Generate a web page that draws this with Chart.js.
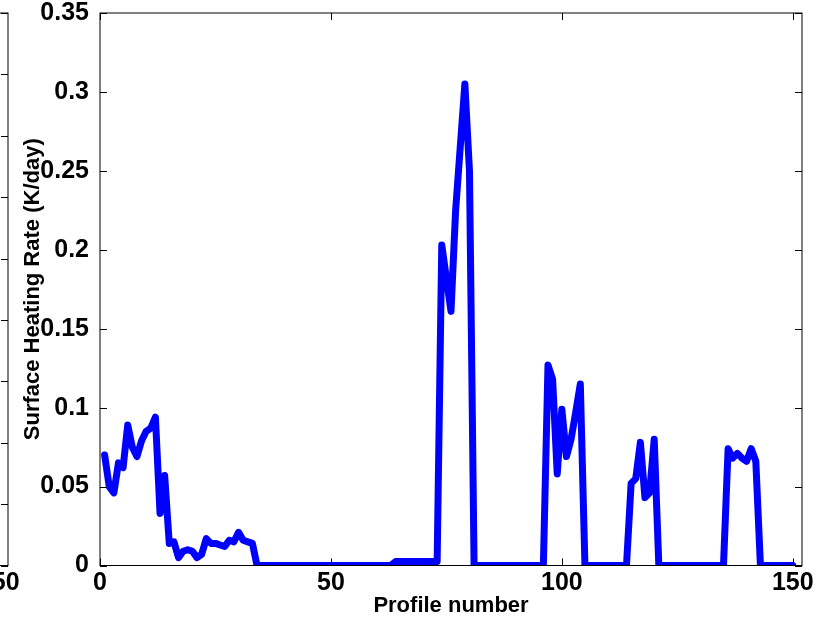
<!DOCTYPE html>
<html>
<head>
<meta charset="utf-8">
<title>Surface heating rate by profile</title>
<script src="https://cdn.jsdelivr.net/npm/chart.js@4.4.1/dist/chart.umd.min.js"></script>
<style>
  html, body { margin: 0; padding: 0; background: #fff; }
  #wrap { position: relative; width: 830px; height: 620px; overflow: hidden; }
  #neighbour, #main { position: absolute; top: 0; }
  #neighbour { left: -794px; }
  #main { left: 0; }
</style>
</head>
<body>
<div id="wrap">
  <canvas id="neighbour" width="830" height="620"></canvas>
  <canvas id="main" width="830" height="620"></canvas>
</div>
<script>
// Surface heating rate (K/day) for each profile, profiles 1..150
const heatingRate = [
  0.070, 0.050, 0.046, 0.065, 0.062, 0.089, 0.075, 0.069, 0.079, 0.085,
  0.087, 0.094, 0.033, 0.057, 0.014, 0.015, 0.005, 0.009, 0.010, 0.009,
  0.005, 0.007, 0.017, 0.014, 0.014, 0.013, 0.012, 0.016, 0.015, 0.021,
  0.016, 0.015, 0.014, 0, 0, 0, 0, 0, 0, 0,
  0, 0, 0, 0, 0, 0, 0, 0, 0, 0,
  0, 0, 0, 0, 0, 0, 0, 0, 0, 0,
  0, 0, 0, 0.0025, 0.0025, 0.0025, 0.0025, 0.0025, 0.0025, 0.0025,
  0.0025, 0.0025, 0.0025, 0.203, 0.182, 0.161, 0.225, 0.265, 0.305, 0.250,
  0, 0, 0, 0, 0, 0, 0, 0, 0, 0,
  0, 0, 0, 0, 0, 0, 0.127, 0.118, 0.058, 0.099,
  0.069, 0.080, 0.097, 0.115, 0, 0, 0, 0, 0, 0,
  0, 0, 0, 0, 0.052, 0.055, 0.078, 0.043, 0.046, 0.080,
  0, 0, 0, 0, 0, 0, 0, 0, 0, 0,
  0, 0, 0, 0, 0, 0.074, 0.068, 0.071, 0.068, 0.066,
  0.074, 0.066, 0, 0, 0, 0, 0, 0, 0, 0
];
const profileNumber = heatingRate.map((_, i) => i + 1);

const xRange = [0, 152];
const yRange = [0, 0.35];
const xTicks = [0, 50, 100, 150];
const yTicks = [0, 0.05, 0.1, 0.15, 0.2, 0.25, 0.3, 0.35];
// the panel to the left only shows its right edge
const neighbourYRange = [0, 0.45];
const neighbourYTicks = [0, 0.05, 0.1, 0.15, 0.2, 0.25, 0.3, 0.35, 0.4, 0.45];

const FONT = '"Liberation Sans", Arial, Helvetica, sans-serif';
Chart.defaults.font.family = FONT;
Chart.defaults.font.weight = 'bold';
Chart.defaults.color = '#000';
const tickFont = { size: 25, weight: 'bold' };
const titleFont = { size: 22, weight: 'bold' };

const fmt = (v) => String(+v.toFixed(2));

// matlab-style frame: full box with ticks pointing inwards on all four sides
const boxTicks = {
  id: 'boxTicks',
  afterDatasetsDraw(chart, args, opts) {
    const { ctx, chartArea, scales } = chart;
    const { left, right, top, bottom } = chartArea;
    const len = opts.length || 7;
    ctx.save();
    ctx.strokeStyle = '#000';
    ctx.lineWidth = 1;
    ctx.strokeRect(left, top, right - left, bottom - top);
    ctx.beginPath();
    scales.x.ticks.forEach((t) => {
      const px = Math.round(scales.x.getPixelForValue(t.value)) + 0.5;
      ctx.moveTo(px, bottom); ctx.lineTo(px, bottom - len);
      ctx.moveTo(px, top); ctx.lineTo(px, top + len);
    });
    scales.y.ticks.forEach((t) => {
      const py = Math.round(scales.y.getPixelForValue(t.value)) + 0.5;
      ctx.moveTo(left, py); ctx.lineTo(left + len, py);
      ctx.moveTo(right, py); ctx.lineTo(right - len, py);
    });
    ctx.stroke();
    ctx.restore();
  },
};

function axes(yMin, yMax, yTickList, showTitles) {
  return {
    x: {
      type: 'linear',
      min: xRange[0],
      max: xRange[1],
      afterBuildTicks: (s) => { s.ticks = xTicks.map((v) => ({ value: v })); },
      afterFit: (s) => { s.height = 54.5; },
      grid: { display: false, drawTicks: false },
      border: { display: false },
      ticks: { padding: 3, font: tickFont, maxRotation: 0, autoSkip: false, callback: fmt },
      title: {
        display: showTitles,
        text: 'Profile number',
        font: titleFont,
        padding: { top: 0, bottom: 1 },
      },
    },
    y: {
      type: 'linear',
      min: yMin,
      max: yMax,
      afterBuildTicks: (s) => { s.ticks = yTickList.map((v) => ({ value: v })); },
      afterFit: (s) => {
        s.width = 100;
        // keep the frame where it is, the end labels may overhang it
        s.paddingTop = 0;
        s.paddingBottom = 0;
      },
      grid: { display: false, drawTicks: false },
      border: { display: false },
      ticks: { padding: 11, font: tickFont, autoSkip: false, callback: fmt },
      title: {
        display: showTitles,
        text: 'Surface Heating Rate (K/day)',
        font: titleFont,
        padding: { top: 20, bottom: 0 },
      },
    },
  };
}

const baseOptions = {
  responsive: false,
  devicePixelRatio: 1,
  animation: false,
  layout: { padding: { left: 0, right: 28, top: 13, bottom: 0 } },
  plugins: { legend: { display: false }, tooltip: { enabled: false } },
};

new Chart(document.getElementById('neighbour'), {
  type: 'line',
  data: { datasets: [] },
  options: {
    ...baseOptions,
    scales: axes(neighbourYRange[0], neighbourYRange[1], neighbourYTicks, false),
  },
  plugins: [boxTicks],
});

new Chart(document.getElementById('main'), {
  type: 'line',
  data: {
    datasets: [{
      label: 'Surface heating rate',
      data: profileNumber.map((x, i) => ({ x, y: heatingRate[i] })),
      borderColor: '#0000ff',
      borderWidth: 7,
      borderCapStyle: 'round',
      borderJoinStyle: 'round',
      pointRadius: 0,
      tension: 0,
      fill: false,
      clip: { left: false, top: false, right: false, bottom: 0 },
    }],
  },
  options: {
    ...baseOptions,
    scales: axes(yRange[0], yRange[1], yTicks, true),
  },
  plugins: [boxTicks],
});
</script>
</body>
</html>
